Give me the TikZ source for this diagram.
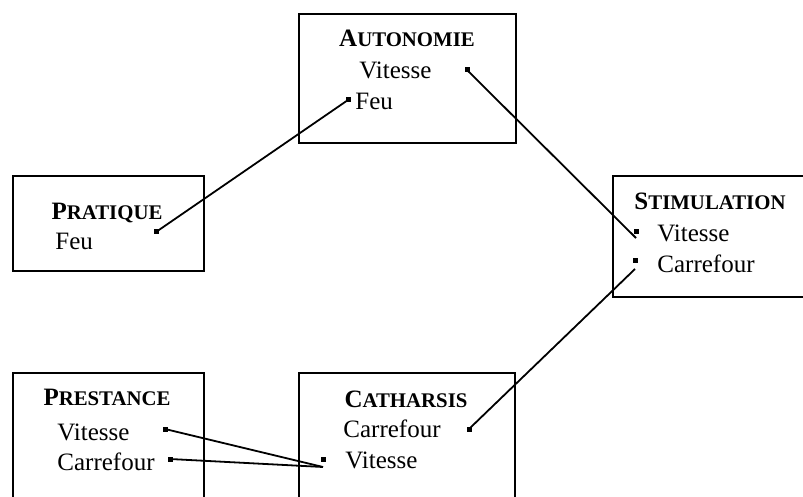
\documentclass[tikz,border=0pt]{standalone}
\usepackage{fontspec}
\setmainfont{Liberation Serif}
\usetikzlibrary{positioning}
\newcommand{\boxtitle}[2]{\textbf{#1{\fontsize{10.4}{12}\selectfont #2}}}
\tikzset{
  box/.style = {
    rectangle,
    draw=black,
    line width=1.2pt,
    anchor=north west,
    inner sep=0pt
  },
  title/.style = {
    anchor=base,
    inner sep=0pt,
    font=\fontsize{12.5}{15}\selectfont
  },
  item/.style = {
    anchor=base west,
    inner sep=0pt,
    font=\fontsize{12.5}{15}\selectfont
  },
  dot/.style = {
    rectangle,
    fill=black,
    minimum size=2.5pt,
    inner sep=0pt
  },
  link/.style = {
    line width=0.9pt
  }
}
\begin{document}
\begin{tikzpicture}[x=0.5pt, y=-0.5pt]
\clip (0,0) rectangle (803,497);

% Autonomie
\node[box, minimum width=108.5pt, minimum height=64.5pt] (auto) at (298,13) {};
\node[title] (autoT) at (407,47) {\boxtitle{A}{UTONOMIE}};
\node[item] (autoV) at (359,79) {Vitesse};
\node[item] (autoF) at (355,110) {Feu};
\node[dot] (autoVd) at (467,70) {};
\node[dot] (autoFd) at (348,100) {};

% Pratique
\node[box, minimum width=95.5pt, minimum height=47.5pt] (prat) at (12,175) {};
\node[title] (pratT) at (107,220) {\boxtitle{P}{RATIQUE}};
\node[item] (pratF) at (55,250) {Feu};
\node[dot] (pratFd) at (156,232) {};

% Stimulation
\node[box, minimum width=110pt, minimum height=60.5pt] (stim) at (612,175) {};
\node[title] (stimT) at (710,210) {\boxtitle{S}{TIMULATION}};
\node[item] (stimV) at (657,242) {Vitesse};
\node[item] (stimC) at (657,272) {Carrefour};
\node[dot] (stimVd) at (636,232) {};
\node[dot] (stimCd) at (635,261) {};

% Prestance
\node[box, minimum width=95.5pt, minimum height=80pt] (prest) at (12,372) {};
\node[title] (prestT) at (107,405) {\boxtitle{P}{RESTANCE}};
\node[item] (prestV) at (57,440) {Vitesse};
\node[item] (prestC) at (57,470) {Carrefour};
\node[dot] (prestVd) at (165,429) {};
\node[dot] (prestCd) at (170,459) {};

% Catharsis
\node[box, minimum width=108pt, minimum height=80pt] (cath) at (298,372) {};
\node[title] (cathT) at (406,407) {\boxtitle{C}{ATHARSIS}};
\node[item] (cathC) at (343,437) {Carrefour};
\node[item] (cathV) at (345,468) {Vitesse};
\node[dot] (cathCd) at (469,429) {};
\node[dot] (cathVd) at (323,459) {};

% Verbindungen
\draw[link] (pratFd.center) -- (autoFd.center);
\draw[link] (autoVd.center) -- ([yshift=-3pt]stimVd.center);
\draw[link] ([yshift=-4pt]stimCd.center) -- (cathCd.center);
\draw[link] (prestVd.center) -- ([yshift=-4pt]cathVd.center);
\draw[link] (prestCd.center) -- ([yshift=-4pt]cathVd.center);

\end{tikzpicture}
\end{document}
